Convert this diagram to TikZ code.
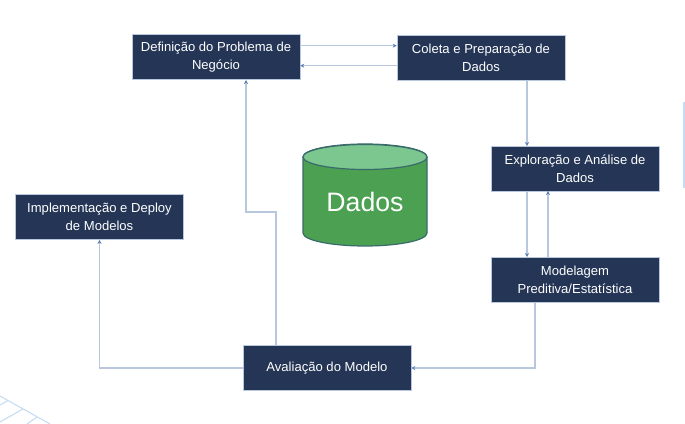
\documentclass[tikz,border=0pt]{standalone}
\usepackage{xcolor}
\usepackage{fontspec}
\setmainfont{Liberation Sans}
\usetikzlibrary{arrows.meta, positioning}
\definecolor{boxnavy}{HTML}{243555}
\definecolor{linkblue}{HTML}{B9C7DE}
\definecolor{tipblue}{HTML}{5B7DB5}
\definecolor{drumgreen}{HTML}{4BA052}
\definecolor{drumtop}{HTML}{7CC68F}
\definecolor{drumedge}{HTML}{3A6B6B}
\definecolor{gridblue}{HTML}{C4DCF3}

\begin{document}
\begin{tikzpicture}[
    x=0.75pt, y=-0.75pt,
    stage/.style={rectangle, draw=linkblue, line width=0.4pt, fill=boxnavy, text=white, minimum width=126pt, minimum height=34pt, inner sep=1pt, align=center, font=\fontsize{9.8}{13.4}\selectfont},
    arrow/.style={-{Stealth[length=3pt, width=3pt, color=tipblue]}, draw=linkblue, line width=0.8pt},
    deco/.style={draw=gridblue, line width=0.8pt}
]
\useasboundingbox (0,0) rectangle (685,424);

% stages
\node[stage] (problema) at (216,57) {Definição do Problema de\\Negócio};
\node[stage] (coleta) at (481,57.5) {Coleta e Preparação de\\Dados};
\node[stage] (exploracao) at (575,168.5) {Exploração e Análise de\\Dados};
\node[stage] (modelagem) at (575,279.5) {Modelagem\\Preditiva/Estatística};
\node[stage] (avaliacao) at (327,368) {Avaliação do Modelo};
\node[stage] (deploy) at (99.5,217) {Implementação e Deploy\\de Modelos};

% drum
\fill[drumgreen, draw=drumedge, line width=0.9pt] (303,157) -- (303,233) arc[start angle=180, end angle=360, x radius=62, y radius=-13] -- (427,157) arc[start angle=0, end angle=180, x radius=62, y radius=-13] -- cycle;
\fill[drumtop, draw=drumedge, line width=0.9pt] (365,157) ellipse[x radius=62, y radius=12.5];
\node[text=white, font=\fontsize{20}{24}\selectfont] (dados) at (365,202) {Dados};

% links
\draw[arrow] ([yshift=8.5pt]problema.east) -- ([yshift=8.5pt]problema.east -| coleta.west);
\draw[arrow] ([yshift=-6.5pt]problema.east -| coleta.west) -- ([yshift=-6.5pt]problema.east);
\draw[arrow] (527,80) -- (527,146);
\draw[arrow] (527,191) -- (527,257);
\draw[arrow] (548,257) -- (548,191);
\draw[arrow] (535,302) |- (avaliacao.east);
\draw[arrow] (276,345) -- (276,212) -- (246,212) -- (246,80);
\draw[arrow] (avaliacao.west) -| (deploy.south);

% background marks
\draw[deco] (684,102) -- (684,188);
\draw[deco] (0,396) -- (50,424);
\draw[deco] (0,405) -- (8,400.5);
\draw[deco] (0,422) -- (23,409);
\draw[deco] (27,424) -- (37,417);
\end{tikzpicture}
\end{document}
